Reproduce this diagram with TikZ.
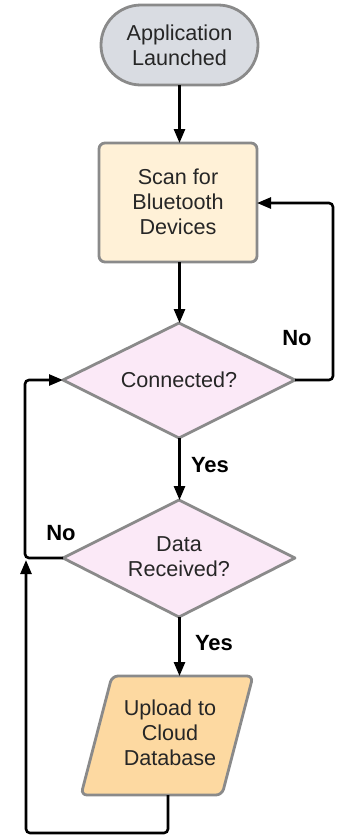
\documentclass[tikz,border=0pt]{standalone}
\usepackage{fontspec}
\setmainfont{Liberation Sans}
\usetikzlibrary{shapes.geometric,arrows.meta}

\definecolor{termfill}{HTML}{D9DCE2}
\definecolor{procfill}{HTML}{FFF1D7}
\definecolor{decfill}{HTML}{FBE9F7}
\definecolor{iofill}{HTML}{FDD9A1}
\definecolor{edgegray}{HTML}{8A8A8A}

\tikzset{
  shapeline/.style={draw=edgegray, line width=1.4},
  lbl/.style={font=\fontsize{10.8}{12.6}\selectfont, align=center, text=black!85},
  yn/.style={font=\fontsize{11}{12.6}\selectfont\bfseries},
  flow/.style={line width=1.3, black, rounded corners=2,
               -{Triangle[length=7pt,width=5.5pt]}},
  plain/.style={line width=1.3, black, rounded corners=2}
}

\begin{document}
\begin{tikzpicture}[x=0.5pt, y=-0.5pt]
  \useasboundingbox (0,0) rectangle (339,837);

  % terminal
  \draw[shapeline, fill=termfill, rounded corners=20pt] (101,5) rectangle (258,85);
  \node[lbl] (start) at (179.5,45) {Application\\Launched};
  \coordinate (startS) at (179.5,85);

  % process box
  \draw[shapeline, fill=procfill, rounded corners=3] (99,143) rectangle (257,262);
  \node[lbl] (scan) at (178,202) {Scan for\\Bluetooth\\Devices};
  \coordinate (scanN) at (179.5,143);
  \coordinate (scanS) at (179.5,262);
  \coordinate (scanE) at (257,203);

  % first decision
  \draw[shapeline, fill=decfill, line join=round]
    (179,323) -- (295,380) -- (179,438) -- (63,380) -- cycle;
  \node[lbl] (conn) at (179,380) {Connected?};
  \coordinate (connN) at (179.5,323);
  \coordinate (connS) at (179.5,438);
  \coordinate (connE) at (295,380);
  \coordinate (connW) at (63,380);

  % second decision
  \draw[shapeline, fill=decfill, line join=round]
    (179,500) -- (295,558) -- (179,617) -- (63,558) -- cycle;
  \node[lbl] (data) at (179,557) {Data\\Received?};
  \coordinate (dataN) at (179.5,500);
  \coordinate (dataS) at (179.5,617);
  \coordinate (dataW) at (63,558);

  % input/output parallelogram
  \draw[shapeline, fill=iofill, rounded corners=3]
    (112,676) -- (253,676) -- (222,795) -- (81,795) -- cycle;
  \node[lbl] (upload) at (170,733) {Upload to\\Cloud\\Database};
  \coordinate (upN) at (179.5,676);
  \coordinate (upS) at (168,795);

  % connectors
  \draw[flow] (startS) -- (scanN);
  \draw[flow] (scanS) -- (connN);
  \draw[flow] (connE) -- (333,380) -- (333,203) -- (scanE);
  \draw[flow] (connS) -- (dataN);
  \draw[flow] (dataS) -- (upN);
  \draw[flow] (dataW) -- (25,558) -- (25,380) -- (connW);
  \draw[flow] (upS) -- (168,833) -- (26,833) -- (26,560);

  % branch labels
  \node[yn] (no1) at (297,338) {No};
  \node[yn] (yes1) at (210,465) {Yes};
  \node[yn] (no2) at (61,533) {No};
  \node[yn] (yes2) at (214,643) {Yes};
\end{tikzpicture}
\end{document}
